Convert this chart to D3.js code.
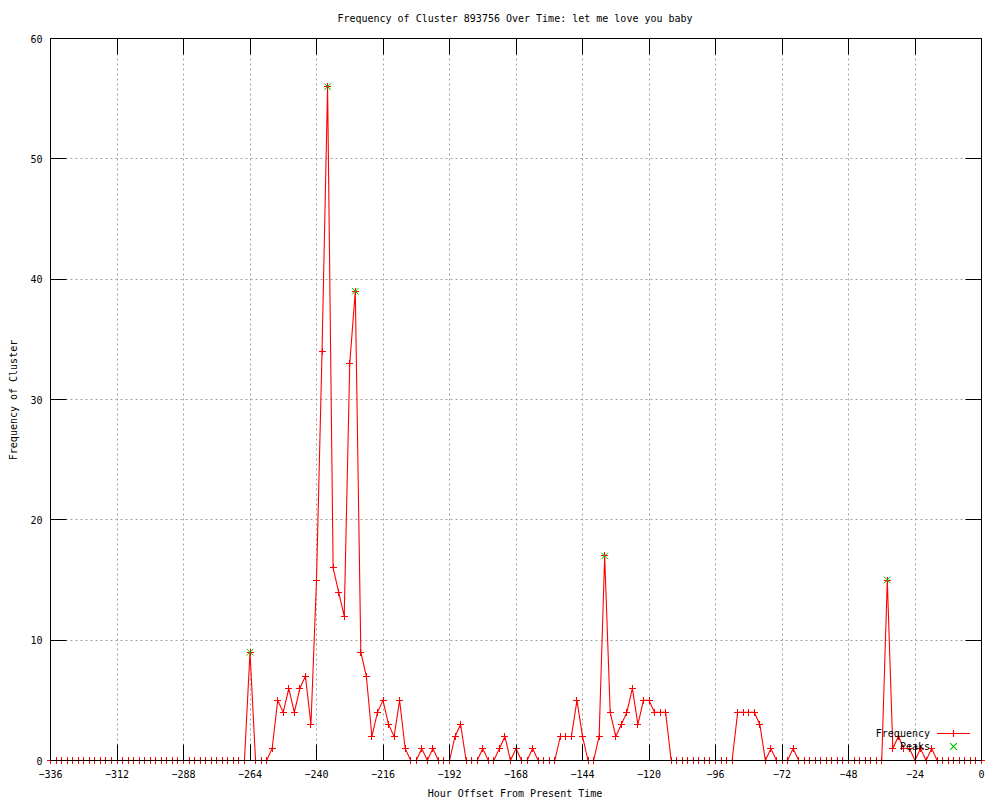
<!DOCTYPE html>
<html>
<head>
<meta charset="utf-8">
<script src="https://cdn.jsdelivr.net/npm/d3@7"></script>
<style>
  body { margin: 0; background: #fff; }
  svg text { font-family: "DejaVu Sans Mono", "Liberation Mono", monospace; font-size: 10px; fill: #000; }
</style>
</head>
<body>
<div id="chart"></div>
<script>
// hour offsets (every 2 hours)
var hours = [
  -336,-334,-332,-330,-328,-326,-324,-322,-320,-318,-316,-314,
  -312,-310,-308,-306,-304,-302,-300,-298,-296,-294,-292,-290,
  -288,-286,-284,-282,-280,-278,-276,-274,-272,-270,-268,-266,
  -264,-262,-260,-258,-256,-254,-252,-250,-248,-246,-244,-242,
  -240,-238,-236,-234,-232,-230,-228,-226,-224,-222,-220,-218,
  -216,-214,-212,-210,-208,-206,-204,-202,-200,-198,-196,-194,
  -192,-190,-188,-186,-184,-182,-180,-178,-176,-174,-172,-170,
  -168,-166,-164,-162,-160,-158,-156,-154,-152,-150,-148,-146,
  -144,-142,-140,-138,-136,-134,-132,-130,-128,-126,-124,-122,
  -120,-118,-116,-114,-112,-110,-108,-106,-104,-102,-100,-98,
  -96,-94,-92,-90,-88,-86,-84,-82,-80,-78,-76,-74,
  -72,-70,-68,-66,-64,-62,-60,-58,-56,-54,-52,-50,
  -48,-46,-44,-42,-40,-38,-36,-34,-32,-30,-28,-26,
  -24,-22,-20,-18,-16,-14,-12,-10,-8,-6,-4,-2,
  0
];
var frequency = [
  0,0,0,0,0,0,0,0,0,0,0,0,
  0,0,0,0,0,0,0,0,0,0,0,0,
  0,0,0,0,0,0,0,0,0,0,0,0,
  9,0,0,0,1,5,4,6,4,6,7,3,
  15,34,56,16,14,12,33,39,9,7,2,4,
  5,3,2,5,1,0,0,1,0,1,0,0,
  0,2,3,0,0,0,1,0,0,1,2,0,
  1,0,0,1,0,0,0,0,2,2,2,5,
  2,0,0,2,17,4,2,3,4,6,3,5,
  5,4,4,4,0,0,0,0,0,0,0,0,
  0,0,0,0,4,4,4,4,3,0,1,0,
  0,0,1,0,0,0,0,0,0,0,0,0,
  0,0,0,0,0,0,0,15,1,2,1,1,
  0,1,0,1,0,0,0,0,0,0,0,0,
  0
];
var peakHours = [-264, -236, -226, -136, -34];
var peakValues = [9, 56, 39, 17, 15];

var xTicks = [-336,-312,-288,-264,-240,-216,-192,-168,-144,-120,-96,-72,-48,-24,0];
var yTicks = [0,10,20,30,40,50,60];

var chartTitle = 'Frequency of Cluster 893756 Over Time: let me love you baby';
var xLabel = 'Hour Offset From Present Time';
var yLabel = 'Frequency of Cluster';

(function() {
  var width = 1000, height = 800;
  var plotLeft = 50.5, plotRight = 981.5, plotTop = 38.5, plotBottom = 760.5;
  var tickLen = 16;
  var red = '#ff0000', green = '#00c000';

  var svg = d3.select('#chart').append('svg')
    .attr('width', width)
    .attr('height', height);

  var x = d3.scaleLinear().domain([-336, 0]).range([plotLeft, plotRight]);
  var y = d3.scaleLinear().domain([0, 60]).range([plotBottom, plotTop]);

  // grid
  var grid = svg.append('g').attr('stroke', '#a0a0a0').attr('stroke-dasharray', '2,3');
  xTicks.slice(1, -1).forEach(function(t) {
    var px = Math.floor(x(t)) + 0.5;
    grid.append('line').attr('x1', px).attr('x2', px)
      .attr('y1', plotTop).attr('y2', plotBottom);
  });
  yTicks.slice(1, -1).forEach(function(t) {
    var py = Math.floor(y(t)) + 0.5;
    grid.append('line').attr('x1', plotLeft).attr('x2', plotRight)
      .attr('y1', py).attr('y2', py);
  });

  // data
  var pts = hours.map(function(h, i) { return [h, frequency[i]]; });
  var line = d3.line().x(function(d) { return x(d[0]); }).y(function(d) { return y(d[1]); });

  svg.append('path')
    .datum(pts)
    .attr('fill', 'none')
    .attr('stroke', red)
    .attr('stroke-width', 1.1)
    .attr('d', line);

  var ms = 3.5;
  function plus(cx, cy) {
    return 'M' + (cx - ms) + ',' + cy + 'H' + (cx + ms) + 'M' + cx + ',' + (cy - ms) + 'V' + (cy + ms);
  }
  function cross(cx, cy) {
    var s = 3.3;
    return 'M' + (cx - s) + ',' + (cy - s) + 'L' + (cx + s) + ',' + (cy + s) +
      'M' + (cx - s) + ',' + (cy + s) + 'L' + (cx + s) + ',' + (cy - s);
  }

  svg.append('g').attr('shape-rendering', 'crispEdges').selectAll('path')
    .data(pts)
    .enter().append('path')
    .attr('stroke', red)
    .attr('fill', 'none')
    .attr('d', function(d) { return plus(x(d[0]), y(d[1])); });

  svg.append('g').selectAll('path')
    .data(peakHours)
    .enter().append('path')
    .attr('stroke', green)
    .attr('fill', 'none')
    .attr('d', function(d, i) { return cross(x(d), y(peakValues[i])); });

  // border + ticks
  var axis = svg.append('g').attr('stroke', '#000').attr('fill', 'none');
  axis.append('rect')
    .attr('x', plotLeft).attr('y', plotTop)
    .attr('width', plotRight - plotLeft).attr('height', plotBottom - plotTop);

  xTicks.forEach(function(t) {
    var px = Math.floor(x(t)) + 0.5;
    axis.append('line').attr('x1', px).attr('x2', px).attr('y1', plotBottom).attr('y2', plotBottom - tickLen);
    axis.append('line').attr('x1', px).attr('x2', px).attr('y1', plotTop).attr('y2', plotTop + tickLen);
  });
  yTicks.forEach(function(t) {
    var py = Math.floor(y(t)) + 0.5;
    axis.append('line').attr('x1', plotLeft).attr('x2', plotLeft + tickLen).attr('y1', py).attr('y2', py);
    axis.append('line').attr('x1', plotRight).attr('x2', plotRight - tickLen).attr('y1', py).attr('y2', py);
  });

  // tick labels
  svg.append('g').selectAll('text')
    .data(xTicks)
    .enter().append('text')
    .attr('x', function(d) { return x(d); })
    .attr('y', plotBottom + 17)
    .attr('text-anchor', 'middle')
    .text(function(d) { return d === 0 ? '0' : '\u2212' + Math.abs(d); });

  svg.append('g').selectAll('text')
    .data(yTicks)
    .enter().append('text')
    .attr('x', plotLeft - 8)
    .attr('y', function(d) { return y(d) + 4; })
    .attr('text-anchor', 'end')
    .text(function(d) { return d; });

  // titles
  svg.append('text')
    .attr('x', 515).attr('y', 22)
    .attr('text-anchor', 'middle')
    .text(chartTitle);

  svg.append('text')
    .attr('x', 515).attr('y', 797)
    .attr('text-anchor', 'middle')
    .text(xLabel);

  svg.append('text')
    .attr('transform', 'translate(17,400) rotate(-90)')
    .attr('text-anchor', 'middle')
    .text(yLabel);

  // legend
  var legend = svg.append('g').attr('fill', 'none');
  legend.append('text').attr('x', 930).attr('y', 737).attr('text-anchor', 'end').text('Frequency');
  legend.append('path').attr('stroke', red).attr('stroke-width', 1.2)
    .attr('d', 'M937,733.5H970' + plus(953.5, 733.5));
  legend.append('text').attr('x', 930).attr('y', 750).attr('text-anchor', 'end').text('Peaks');
  legend.append('path').attr('stroke', green).attr('stroke-width', 1.2)
    .attr('d', cross(953.5, 746.5));
})();
</script>
</body>
</html>
